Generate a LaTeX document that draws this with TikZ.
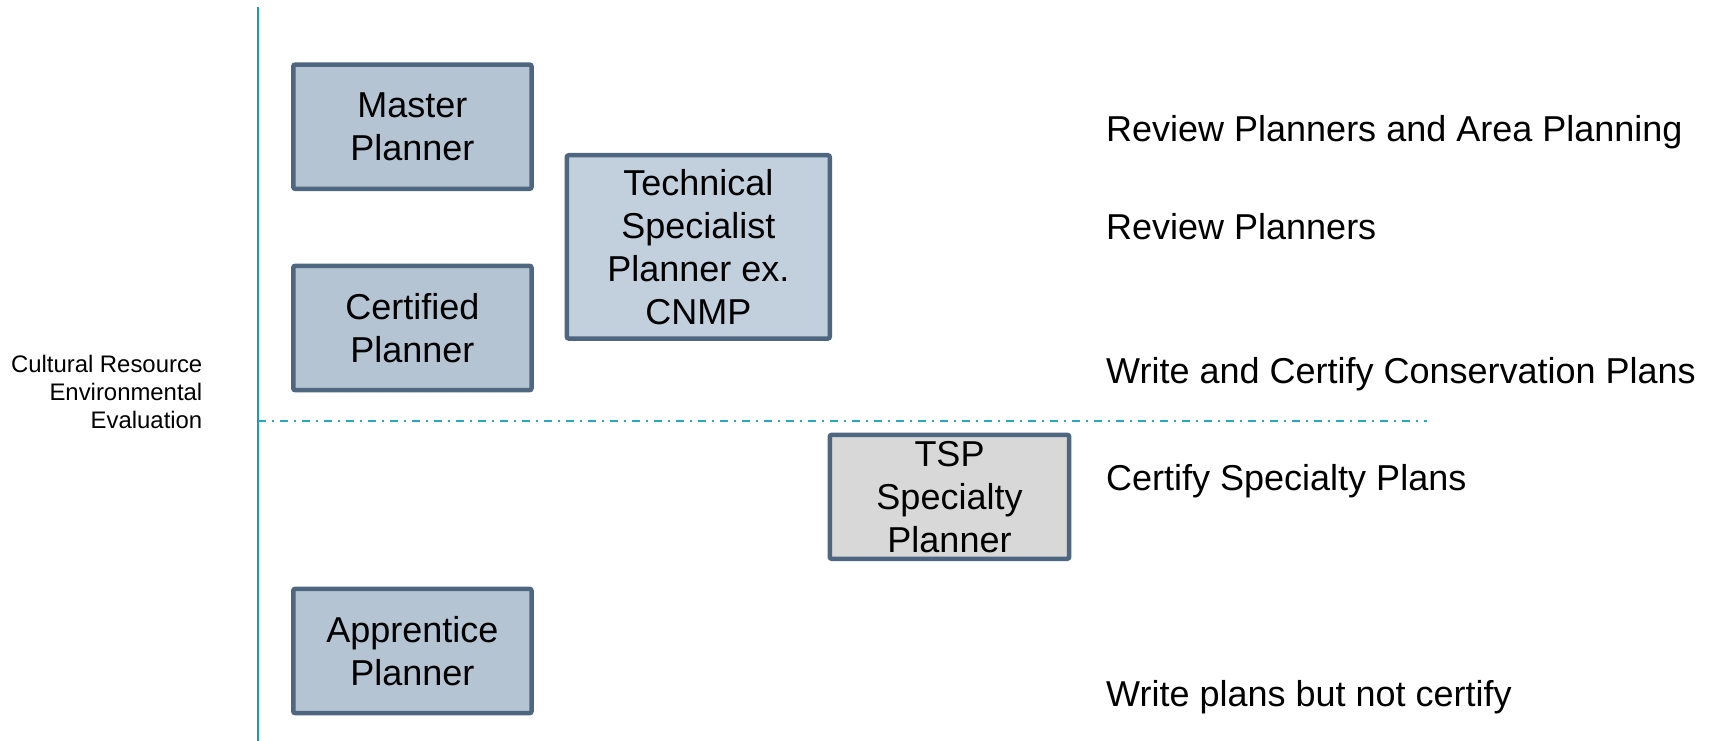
\documentclass[tikz,border=0pt]{standalone}
\usepackage{fontspec}
\setmainfont{Liberation Sans}
\definecolor{boxborder}{HTML}{4E6680}
\definecolor{boxblue}{HTML}{B4C4D2}
\definecolor{boxlight}{HTML}{C2CFDC}
\definecolor{boxgray}{HTML}{D8D8D8}
\definecolor{axisteal}{HTML}{1B9BB3}
\definecolor{septeal}{HTML}{2BA6C0}
\newcommand{\boxfont}{\fontsize{36}{43}\selectfont}
\newcommand{\smallfont}{\fontsize{23.9}{27.8}\selectfont}
\tikzset{
  planbox/.style={draw=boxborder, line width=4.5pt, rounded corners=2pt, fill=#1,
    align=center, inner sep=0pt, font=\boxfont},
  rolebox/.style={planbox=boxblue, minimum width=238.3pt, minimum height=124.3pt},
  duty/.style={anchor=base west, inner sep=0pt, font=\boxfont},
  axisline/.style={draw=axisteal, line width=2pt},
  sepline/.style={draw=septeal, line width=1.7pt, dash pattern=on 8pt off 6pt on 2pt off 6pt}
}
\begin{document}
\begin{tikzpicture}[x=1pt,y=-1pt]
\useasboundingbox (0,0) rectangle (1714,741);
% axes
\coordinate (vtop) at (257.7,7);
\coordinate (vbot) at (257.7,741);
\coordinate (sepL) at (257.7,420.7);
\coordinate (sepR) at (1427,420.7);
\draw[axisline] (vtop) -- (vbot);
\draw[sepline] (sepL) -- (sepR);
% left label
\node[anchor=east, align=right, inner sep=0pt, font=\smallfont] (cree) at (202.5,391.8)
  {Cultural Resource\\Environmental\\Evaluation};
% boxes
\node[rolebox] (master) at (412.4,126.7) {Master\\Planner};
\node[rolebox] (certified) at (412.4,328) {Certified\\Planner};
\node[rolebox] (apprentice) at (412.4,651) {Apprentice\\Planner};
\node[planbox=boxlight, minimum width=263pt, minimum height=183.3pt] (technical) at (698.3,246.9)
  {Technical\\Specialist\\Planner ex.\\CNMP};
\node[planbox=boxgray, minimum width=239.4pt, minimum height=124pt] (tsp) at (949.5,496.8)
  {TSP\\Specialty\\Planner};
% duties
\node[duty] (d1) at (1106,141.9) {Review Planners and Area Planning};
\node[duty] (d2) at (1106,239) {Review Planners};
\node[duty] (d3) at (1106,383.5) {Write and Certify Conservation Plans};
\node[duty] (d4) at (1106,490) {Certify Specialty Plans};
\node[duty] (d5) at (1106,706) {Write plans but not certify};
\end{tikzpicture}
\end{document}
